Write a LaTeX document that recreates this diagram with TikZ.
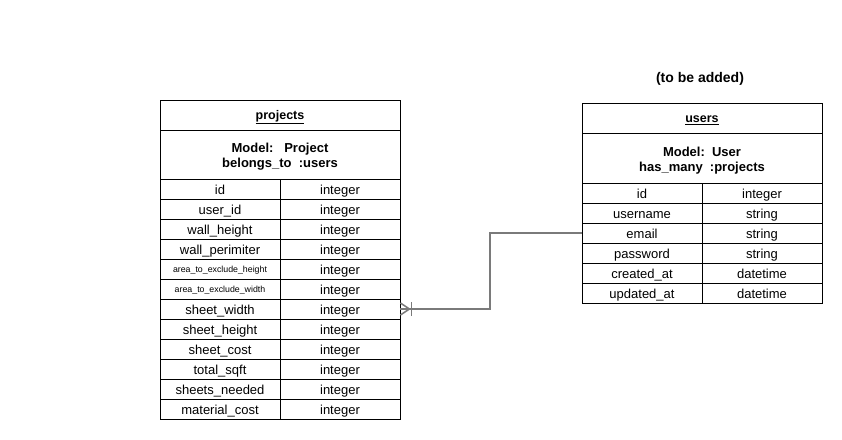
\documentclass[tikz,border=0pt]{standalone}
\usepackage{fontspec}
\setmainfont{Liberation Sans}
\usepackage{tikz}
\usetikzlibrary{positioning}
\definecolor{linkgray}{HTML}{7A7A7A}

\begin{document}
\begin{tikzpicture}[x=1pt,y=-1pt,
  tabhead/.style={rectangle,draw=black,line width=0.8pt,minimum width=240pt,minimum height=30pt,inner sep=0pt,text height=10pt,text depth=1pt,font=\fontsize{12.5}{14}\selectfont\bfseries},
  tabmodel/.style={rectangle,draw=black,line width=0.8pt,minimum width=240pt,inner sep=0pt,align=center,font=\fontsize{13}{15}\selectfont\bfseries},
  cell/.style={rectangle,draw=black,line width=0.8pt,minimum width=120pt,minimum height=20pt,inner sep=0pt,text height=11pt,text depth=1pt,font=\fontsize{13}{15}\selectfont},
  tinycell/.style={cell,text height=8pt,text depth=0.5pt,font=\fontsize{8.8}{10}\selectfont},
  link/.style={draw=linkgray,line width=1.5pt}]
\useasboundingbox (0,0) rectangle (842,439);

% projects table
\node[tabhead] (ph) at (280,115) {\underline{projects}};
\node[tabmodel,minimum height=49pt] (pm) at (280,154.5) {\rule{0pt}{14pt}Model:\ \ \ Project\\belongs\_to\ \ :users};
\node[cell] (pn1) at (220,189) {id};
\node[cell] (pt1) at (340,189) {integer};
\node[cell] (pn2) at (220,209) {user\_id};
\node[cell] (pt2) at (340,209) {integer};
\node[cell] (pn3) at (220,229) {wall\_height};
\node[cell] (pt3) at (340,229) {integer};
\node[cell] (pn4) at (220,249) {wall\_perimiter};
\node[cell] (pt4) at (340,249) {integer};
\node[tinycell] (pn5) at (220,269) {area\_to\_exclude\_height};
\node[cell] (pt5) at (340,269) {integer};
\node[tinycell] (pn6) at (220,289) {area\_to\_exclude\_width};
\node[cell] (pt6) at (340,289) {integer};
\node[cell] (pn7) at (220,309) {sheet\_width};
\node[cell] (pt7) at (340,309) {integer};
\node[cell] (pn8) at (220,329) {sheet\_height};
\node[cell] (pt8) at (340,329) {integer};
\node[cell] (pn9) at (220,349) {sheet\_cost};
\node[cell] (pt9) at (340,349) {integer};
\node[cell] (pn10) at (220,369) {total\_sqft};
\node[cell] (pt10) at (340,369) {integer};
\node[cell] (pn11) at (220,389) {sheets\_needed};
\node[cell] (pt11) at (340,389) {integer};
\node[cell] (pn12) at (220,409) {material\_cost};
\node[cell] (pt12) at (340,409) {integer};

% users table
\node[font=\fontsize{14}{16}\selectfont\bfseries] (note) at (700,79) {(to be added)};
\node[tabhead] (uh) at (702,118) {\underline{users}};
\node[tabmodel,minimum height=50pt] (um) at (702,158) {\rule{0pt}{14pt}Model:\ \ User\\has\_many\ \ :projects};
\node[cell] (un1) at (642,193) {id};
\node[cell] (ut1) at (762,193) {integer};
\node[cell] (un2) at (642,213) {username};
\node[cell] (ut2) at (762,213) {string};
\node[cell] (un3) at (642,233) {email};
\node[cell] (ut3) at (762,233) {string};
\node[cell] (un4) at (642,253) {password};
\node[cell] (ut4) at (762,253) {string};
\node[cell] (un5) at (642,273) {created\_at};
\node[cell] (ut5) at (762,273) {datetime};
\node[cell] (un6) at (642,293) {updated\_at};
\node[cell] (ut6) at (762,293) {datetime};

% relation users -> projects
\coordinate (jog) at (490,0);
\draw[link] (un3.west) -- (un3.west -| jog) |- (pt7.east);
\draw[link] ([xshift=11pt,yshift=-7pt]pt7.east) -- ([xshift=11pt,yshift=7pt]pt7.east);
\draw[link] ([yshift=-6pt]pt7.east) -- ([xshift=9pt]pt7.east) -- ([yshift=6pt]pt7.east);
\end{tikzpicture}
\end{document}
